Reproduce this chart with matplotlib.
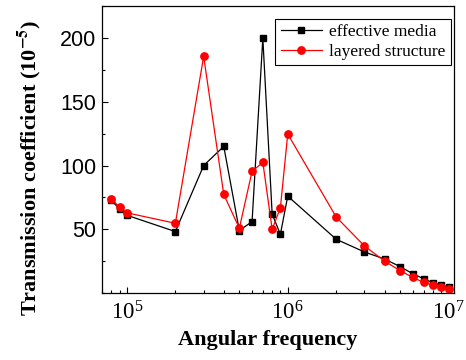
import matplotlib
matplotlib.use("Agg")
import matplotlib.pyplot as plt
from matplotlib.ticker import LogLocator, MultipleLocator, FixedLocator, NullFormatter

freq = [8e4, 9e4, 1e5, 2e5, 3e5, 4e5, 5e5, 6e5, 7e5, 8e5, 9e5, 1e6,
        2e6, 3e6, 4e6, 5e6, 6e6, 7e6, 8e6, 9e6, 1e7]
effective = [72.6, 66, 61, 48.2, 100, 115, 49, 56, 200, 62, 46, 76,
             42.2, 32.2, 26.7, 20.7, 15.1, 11.2, 8.1, 6, 4.7]
layered = [73.9, 67.3, 62.9, 54.7, 185.6, 77.3, 50.8, 95.4, 102.5, 50, 66.8, 124.7,
           59.7, 36.9, 25.1, 17.5, 12.3, 8.3, 6.2, 4.7, 3.3]
y_ticks = [50, 100, 150, 200]

serif = "Liberation Serif"
sans = "Liberation Sans"
plt.rcParams["mathtext.fontset"] = "stix"

fig = plt.figure(figsize=(4.66, 3.6), dpi=100)
ax = fig.add_axes([0.219, 0.186, 0.755, 0.797])

ax.plot(freq, effective, color="black", marker="s", ms=4.5, lw=0.9,
        label="effective media")
ax.plot(freq, layered, color="red", marker="o", ms=5.3, lw=0.9,
        label="layered structure")

ax.set_xscale("log")
ax.set_xlim(7e4, 1.08e7)
ax.set_ylim(0, 225)

ax.yaxis.set_major_locator(FixedLocator(y_ticks))
ax.yaxis.set_minor_locator(MultipleLocator(25))
ax.xaxis.set_minor_locator(LogLocator(base=10, subs=range(2, 10)))
ax.xaxis.set_minor_formatter(NullFormatter())

ax.tick_params(which="both", direction="in", top=False, right=False)
ax.tick_params(which="major", length=4, width=0.8)
ax.tick_params(which="minor", length=2.5, width=0.8)
ax.tick_params(axis="y", labelsize=15.5, pad=4)
ax.tick_params(axis="x", labelsize=16.5, pad=6)
for lab in ax.get_yticklabels():
    lab.set_fontfamily(sans)
for lab in ax.get_xticklabels():
    lab.set_fontfamily(serif)

ax.set_xlabel("Angular frequency", fontfamily=serif, fontweight="bold",
              fontsize=16)
ax.set_ylabel("Transmission coefficient (10$^{\\mathbf{-5}}$)", fontfamily=serif,
              fontweight="bold", fontsize=16)
ax.xaxis.set_label_coords(0.472, -0.13)
ax.yaxis.set_label_coords(-0.168, 0.438)

leg = ax.legend(loc="upper right", prop={"family": serif, "size": 12.5},
                fancybox=False, edgecolor="black", framealpha=1,
                handlelength=2.4, handletextpad=0.4, borderpad=0.3,
                labelspacing=0.2, borderaxespad=0,
                bbox_to_anchor=(0.991, 0.955))
leg.get_frame().set_linewidth(0.8)

for s in ax.spines.values():
    s.set_linewidth(0.9)

fig.savefig("out.png", dpi=100)
